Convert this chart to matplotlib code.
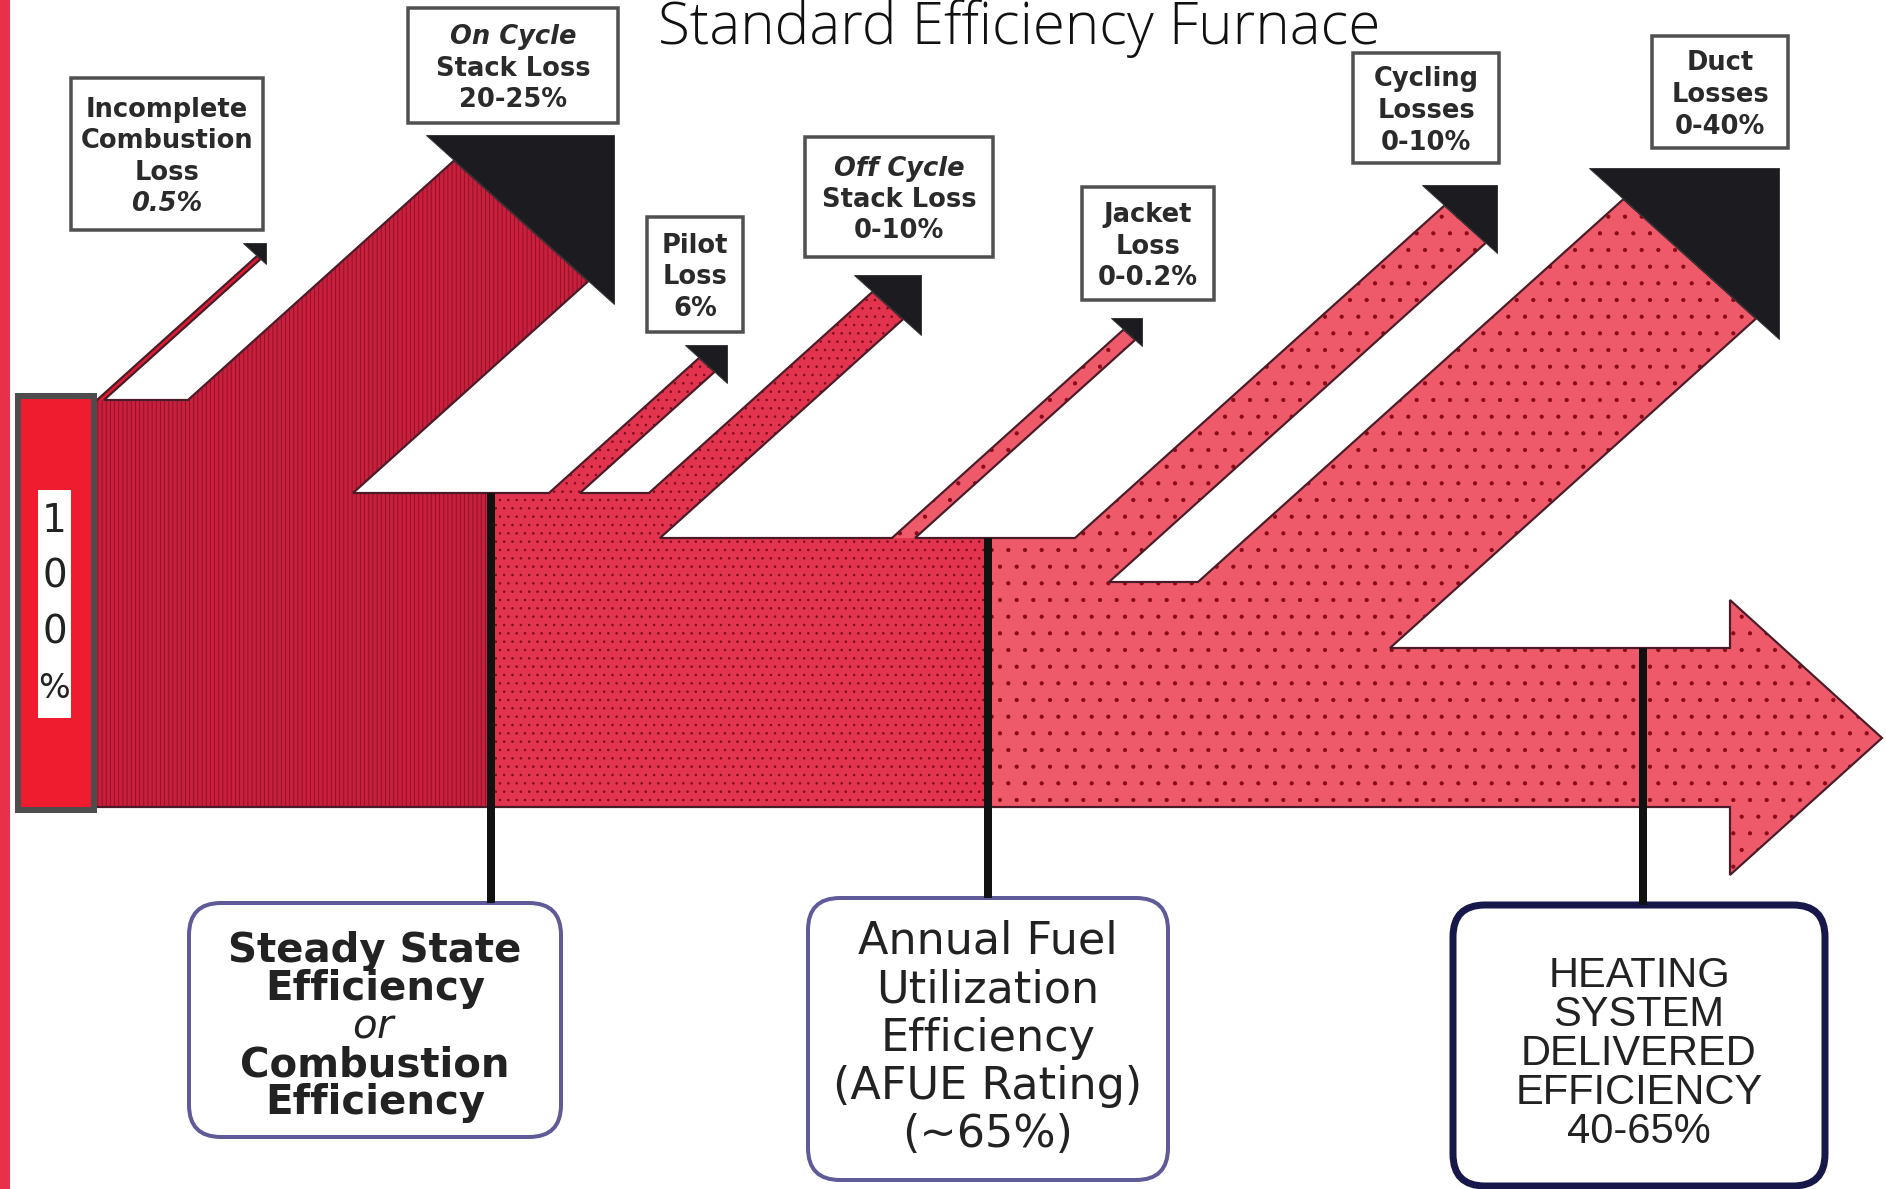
"""
Standard efficiency furnace: where the fuel energy goes.
Flow diagram redrawn with plain matplotlib patches, in pixel coordinates.
"""

import matplotlib
matplotlib.use("Agg")
import matplotlib.pyplot as plt
from matplotlib.patches import Polygon, Rectangle, FancyBboxPatch

W, H = 1886, 1189
PX = 0.72          # points per pixel at dpi=100

# ---- content -------------------------------------------------------------
TITLE = "Standard Efficiency Furnace"
INPUT_LABEL = "100%"
LOSS_NAMES = ["Incomplete\nCombustion\nLoss", "On Cycle\nStack Loss", "Pilot\nLoss",
              "Off Cycle\nStack Loss", "Jacket\nLoss", "Cycling\nLosses", "Duct\nLosses"]
LOSS_RANGES = ["0.5%", "20-25%", "6%", "0-10%", "0-0.2%", "0-10%", "0-40%"]
STAGE_LABELS = ["Steady State\nEfficiency\n$\\it{or}$\nCombustion\nEfficiency",
                "Annual Fuel\nUtilization\nEfficiency\n(AFUE Rating)\n(~65%)",
                "HEATING\nSYSTEM\nDELIVERED\nEFFICIENCY\n40-65%"]
ITALIC_LINES = {"On Cycle", "Off Cycle", "0.5%"}

# ---- layout (pixels, y grows downwards) ----------------------------------
FLOW_LEFT, FLOW_TOP, FLOW_BOTTOM = 94, 400, 807
SLOPE = 0.9                     # branches rise 0.9 px per px to the right
BRANCH_X_UP = [97, 188, 549, 649, 892, 1075, 1198]
BRANCH_X_LOW = [104, 353, 580, 660, 915, 1109, 1390]
BRANCH_TOP_AFTER = [400, 493, 493, 538, 538, 582, 648]
HEAD_CORNER = [(266, 243), (614, 135), (727, 345), (921, 275),
               (1142, 318), (1497, 185), (1779, 168)]
HEAD_SIZE = [23, 188, 42, 67, 31, 75, 190]
BRANCH_STYLE = ["bright", "dark", "medium", "medium", "light", "light", "light"]
LABEL_BOX = [(71, 78, 263, 230), (408, 8, 618, 123), (647, 217, 743, 332),
             (805, 137, 993, 257), (1082, 187, 1214, 300), (1353, 53, 1499, 163),
             (1652, 36, 1788, 148)]

ARROW_BASE_X, ARROW_TIP, ARROW_HEAD_Y = 1730, (1882, 738), (600, 875)

STAGE_X = [491, 988, 1643]
STAGE_BOX = [(189, 903, 561, 1137), (808, 898, 1168, 1180), (1453, 905, 1825, 1186)]
STAGE_TEXT_Y = [1027, 1038, 1054]
STAGE_LINESPACING = [0.94, 1.16, 0.97]
STAGE_FONT = [dict(family="DejaVu Sans", weight="bold", size=29),
              dict(family="DejaVu Sans", size=32),
              dict(family="Liberation Sans", size=30)]
STAGE_EDGE = ["#5f5a98", "#5f5a98", "#17174a"]
STAGE_LW = [4, 4, 7]

STYLES = {
    "bright": dict(facecolor="#e31b32", edgecolor="#e31b32", hatch=None),
    "dark":   dict(facecolor="#c81f3d", edgecolor="#8c0f27", hatch="||||"),
    "medium": dict(facecolor="#e2344e", edgecolor="#7d0a1c", hatch=".."),
    "light":  dict(facecolor="#ef5a6b", edgecolor="#8a0a18", hatch="."),
}
OUTLINE = "#4a1c28"
HEAD_COLOR = "#1c1b1f"

plt.rcParams["hatch.linewidth"] = 0.6
plt.rcParams["mathtext.fontset"] = "dejavusans"


def hit_head(x0, y0, corner, size):
    """Where a branch edge through (x0, y0) meets the slanted side of its head."""
    xc, yc = corner
    x = (y0 + SLOPE * x0 - yc + SLOPE * (xc - size)) / (2 * SLOPE)
    return x, y0 - SLOPE * (x - x0)


def fill(ax, pts, style, clip=None):
    p = Polygon(pts, closed=True, linewidth=0, **STYLES[style])
    ax.add_patch(p)
    if clip is not None:
        p.set_clip_path(Rectangle((clip[0], 0), clip[1] - clip[0], H, transform=ax.transData))
    return p


fig = plt.figure(figsize=(W / 100, H / 100), dpi=100)
ax = fig.add_axes([0, 0, 1, 1])
ax.set_xlim(0, W)
ax.set_ylim(H, 0)
ax.axis("off")

# red rule down the left edge
ax.plot([5, 5], [0, H], color="#e8304a", lw=10 * PX, solid_capstyle="butt", zorder=1)

# ---- flow geometry ---------------------------------------------------------
flow_pts = [(FLOW_LEFT, FLOW_TOP)]
outline_pts = [(FLOW_LEFT, FLOW_TOP)]
bands = []
y_before = FLOW_TOP
for x_up, x_low, y_after, corner, size in zip(BRANCH_X_UP, BRANCH_X_LOW, BRANCH_TOP_AFTER,
                                              HEAD_CORNER, HEAD_SIZE):
    x_low2 = x_low + (y_after - y_before) / SLOPE
    up_end = hit_head(x_up, y_before, corner, size)
    low_end = hit_head(x_low, y_after, corner, size)
    flow_pts += [(x_up, y_before), (x_low2, y_before), (x_low, y_after)]
    outline_pts += [(x_up, y_before), up_end, low_end, (x_low, y_after)]
    bands.append([(x_up, y_before), up_end, low_end, (x_low2, y_before)])
    y_before = y_after

tail = [(ARROW_BASE_X, y_before), (ARROW_BASE_X, ARROW_HEAD_Y[0]), ARROW_TIP,
        (ARROW_BASE_X, ARROW_HEAD_Y[1]), (ARROW_BASE_X, FLOW_BOTTOM), (FLOW_LEFT, FLOW_BOTTOM)]
flow_pts += tail
outline_pts += tail

zones = [(0, STAGE_X[0], "dark"), (STAGE_X[0], STAGE_X[1], "medium"), (STAGE_X[1], W, "light")]
for x0, x1, style in zones:
    fill(ax, flow_pts, style, clip=(x0, x1))
for pts, style in zip(bands, BRANCH_STYLE):
    fill(ax, pts, style)
ax.add_patch(Polygon(outline_pts, closed=True, fill=False, edgecolor=OUTLINE,
                     lw=2.2 * PX, joinstyle="miter"))

for (xc, yc), s in zip(HEAD_CORNER, HEAD_SIZE):
    ax.add_patch(Polygon([(xc - s, yc), (xc, yc), (xc, yc + SLOPE * s)], closed=True,
                         facecolor=HEAD_COLOR, edgecolor="#3a3a3a", lw=1 * PX))

# ---- 100% input block ------------------------------------------------------
ax.add_patch(Rectangle((18, 396), FLOW_LEFT - 18, 414, facecolor="#ee1c2e",
                       edgecolor="#4d4d4d", lw=6 * PX))
ax.add_patch(Rectangle((38, 490), 33, 228, facecolor="white", edgecolor="none"))
for ch, y in zip(INPUT_LABEL, [521, 577, 632, 688]):
    ax.text(54.5, y, ch, ha="center", va="center", family="DejaVu Sans",
            size=24 if ch == "%" else 28, color="#222222")

# ---- loss labels -----------------------------------------------------------
for name, rng, (x0, y0, x1, y1) in zip(LOSS_NAMES, LOSS_RANGES, LABEL_BOX):
    ax.add_patch(Rectangle((x0, y0), x1 - x0, y1 - y0, facecolor="white",
                           edgecolor="#505050", lw=3.5 * PX))
    lines = name.split("\n") + [rng]
    yc = (y0 + y1) / 2 + 3
    for i, line in enumerate(lines):
        y = yc + (i - (len(lines) - 1) / 2) * 31.5
        ax.text((x0 + x1) / 2, y, line, ha="center", va="center", family="DejaVu Sans",
                weight="bold", size=18.5, color="#2a2a2a",
                style="italic" if line in ITALIC_LINES else "normal")

# ---- efficiency stages -----------------------------------------------------
flow_top_at = [BRANCH_TOP_AFTER[2], BRANCH_TOP_AFTER[4], BRANCH_TOP_AFTER[6]]
for x, y_top, label, (x0, y0, x1, y1), ty, ls, font, ec, lw in zip(
        STAGE_X, flow_top_at, STAGE_LABELS, STAGE_BOX, STAGE_TEXT_Y, STAGE_LINESPACING,
        STAGE_FONT, STAGE_EDGE, STAGE_LW):
    ax.plot([x, x], [y_top, y0], color="#111111", lw=8 * PX, solid_capstyle="butt")
    ax.add_patch(FancyBboxPatch((x0, y0), x1 - x0, y1 - y0,
                                boxstyle="round,pad=0,rounding_size=32",
                                facecolor="white", edgecolor=ec, lw=lw * PX))
    ax.text((x0 + x1) / 2, ty, label, ha="center", va="center", multialignment="center",
            linespacing=ls, color="#222222", **font)

ax.text(1019, 44, TITLE, ha="center", va="baseline", family="Open Sans",
        weight="light", size=42, color="#111111")

fig.savefig("out.png", dpi=100)
